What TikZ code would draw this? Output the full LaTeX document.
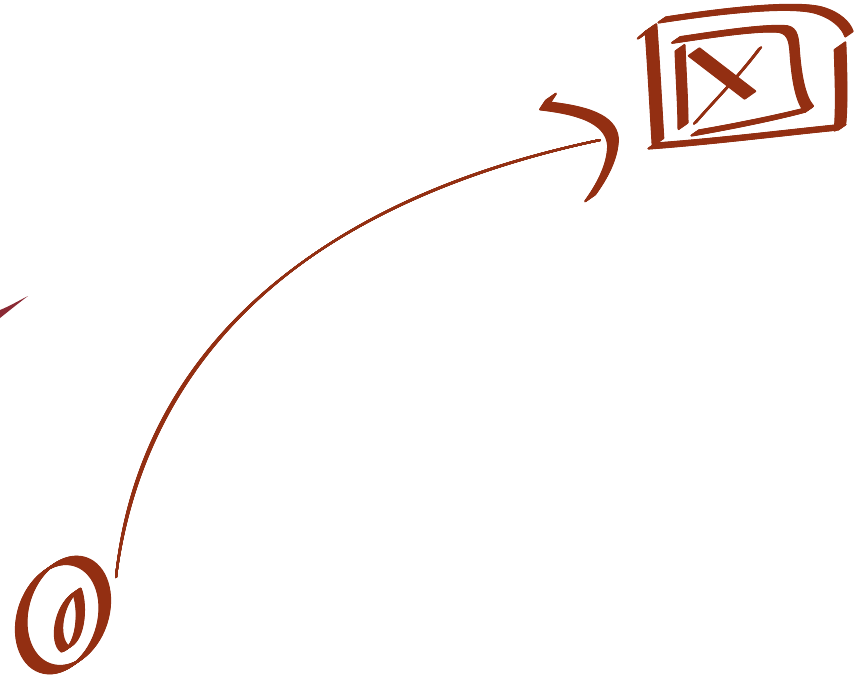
\documentclass[tikz,border=0pt]{standalone}
\usetikzlibrary{calc}
\definecolor{ink}{RGB}{147,47,18}
\definecolor{inktwo}{RGB}{139,42,52}
\tikzset{pen/.style={draw=ink, line width=1pt, line cap=round, line join=round}}
\newcommand\nibdraw[3][35]{\foreach \k in {-#2,...,#2}{\draw[pen, shift={({0.5*\k*cos(#1)},{-0.5*\k*sin(#1)})}] #3;}}
\begin{document}
\begin{tikzpicture}[x=0.5pt,y=-0.5pt]
\fill[white] (0,0) rectangle (856,677);
\useasboundingbox (0,0) rectangle (856,677);
% invisible anchor nodes
\node[inner sep=0] (zero) at (63,615) {};
\node[inner sep=0] (box) at (746,80) {};
% ring around the zero
\begin{scope}[shift={(63,615)},rotate=-18]
\nibdraw[53]{13}{(-95:40 and 56) arc[start angle=-95,end angle=280,x radius=40,y radius=56]}
\end{scope}
% the zero
\nibdraw{9}{(77,591) .. controls (58,604) and (53,640) .. (65,649) .. controls (80,645) and (84,610) .. (77,591)}
% outer box
\nibdraw{13}{(643,35) -- (651,28) .. controls (654,70) and (656,110) .. (658,142)}
\nibdraw{9}{(662,20) .. controls (720,11) and (790,3) .. (818,10) .. controls (836,15) and (846,25) .. (849,34)}
\nibdraw{13}{(840,46) .. controls (841,75) and (842,105) .. (840,127)}
\nibdraw{9}{(652,146) .. controls (720,141) and (790,132) .. (842,127)}
% inner box
\nibdraw{10}{(676,40) .. controls (710,35) and (760,27) .. (783,29) .. controls (794,31) and (794,42) .. (795,56) .. controls (797,80) and (801,100) .. (809,109)}
\nibdraw{9}{(809,109) .. controls (780,117) and (730,127) .. (695,133)}
\nibdraw{11}{(680,48) .. controls (681,75) and (683,105) .. (683,126)}
% the cross
\nibdraw{13}{(694,52) -- (750,95)}
\nibdraw{3}{(760,48) .. controls (740,75) and (715,100) .. (695,123)}
% connector
\coordinate (cstart) at ($(zero)+(53,-38)$);
\coordinate (cend) at ($(box)+(-146,60)$);
\nibdraw{8}{(cstart) .. controls (140,370) and (290,205) .. (cend)}
% hand-drawn arrow head
\nibdraw{12}{(551,97) -- (545,106) .. controls (580,110) and (611,118) .. (613,142) .. controls (613,162) and (601,183) .. (590,198)}
% stray stroke at left edge
\fill[inktwo] (0,310) .. controls (10,306) and (20,300) .. (28,296) .. controls (20,302) and (10,310) .. (0,318) -- cycle;
\end{tikzpicture}
\end{document}
